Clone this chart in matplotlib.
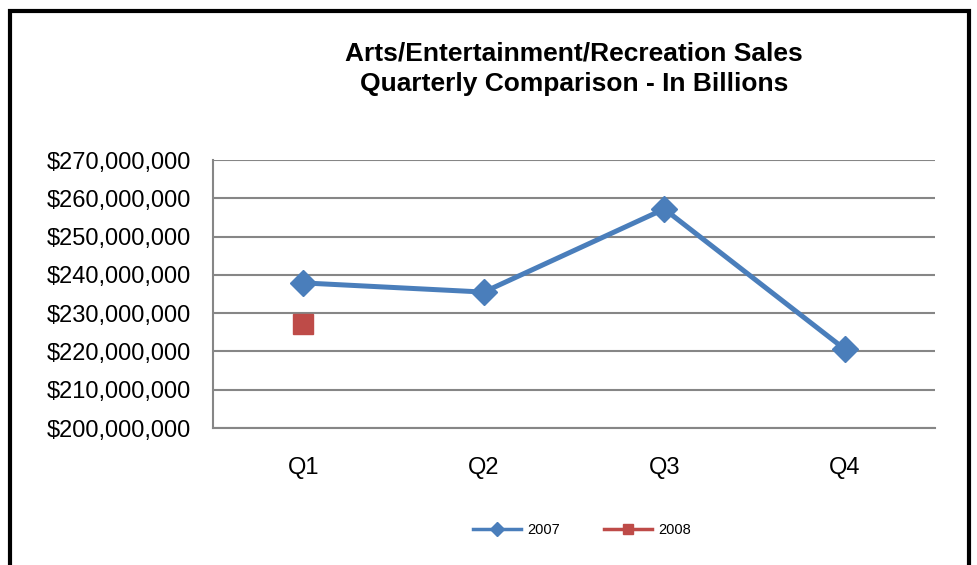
import matplotlib.pyplot as plt
from matplotlib.patches import Rectangle
from matplotlib.ticker import FuncFormatter

quarters = ['Q1', 'Q2', 'Q3', 'Q4']
sales_2007 = [237.9e6, 235.5e6, 257.2e6, 220.6e6]
sales_2008 = [227.2e6]

plt.rcParams['font.family'] = ['Liberation Sans', 'DejaVu Sans']

W, H = 977, 565
fig = plt.figure(figsize=(W / 100, H / 100), dpi=100)

# outer chart frame, open at the bottom
fig.add_artist(Rectangle((10 / W, -0.05), 959 / W, 1.05 - 11 / H,
                         transform=fig.transFigure, fill=False,
                         edgecolor='black', linewidth=3))

ax = fig.add_axes([213 / W, 1 - 428 / H, (935 - 213) / W, (428 - 160) / H])

ax.plot(range(len(sales_2007)), sales_2007, color='#4a7ebb', linewidth=3.6,
        marker='D', markersize=13, label='2007')
ax.plot(range(len(sales_2008)), sales_2008, color='#be4b48', linewidth=3.6,
        marker='s', markersize=14, label='2008')

ax.set_xlim(-0.5, 3.5)
ax.set_ylim(200e6, 270e6)
ax.set_yticks([200e6 + i * 10e6 for i in range(8)])
ax.yaxis.set_major_formatter(FuncFormatter(lambda v, p: '${:,.0f}'.format(v)))
ax.set_xticks(range(len(quarters)))
ax.set_xticklabels(quarters)
ax.tick_params(axis='both', length=0, labelsize=17, colors='black')
ax.tick_params(axis='y', pad=16)
ax.tick_params(axis='x', pad=21)

ax.grid(axis='y', color='#868686', linewidth=1.5)
ax.set_axisbelow(True)
for side in ['top', 'right']:
    ax.spines[side].set_visible(False)
ax.spines['left'].set_color('#868686')
ax.spines['left'].set_linewidth(1.5)
ax.spines['bottom'].set_color('#868686')
ax.spines['bottom'].set_linewidth(1.5)

fig.text(574 / W, 1 - 69 / H,
         'Arts/Entertainment/Recreation Sales\nQuarterly Comparison - In Billions',
         ha='center', va='center', fontsize=19, fontweight='bold',
         linespacing=1.35)

leg = fig.legend(loc='center', bbox_to_anchor=(582 / W, 1 - 530 / H), ncol=2,
                 frameon=False, fontsize=10.5, handlelength=3.3,
                 columnspacing=3.05, handletextpad=0.4, markerscale=0.55)
for line in leg.get_lines():
    line.set_linewidth(2.5)

fig.savefig('out.png', dpi=100)
